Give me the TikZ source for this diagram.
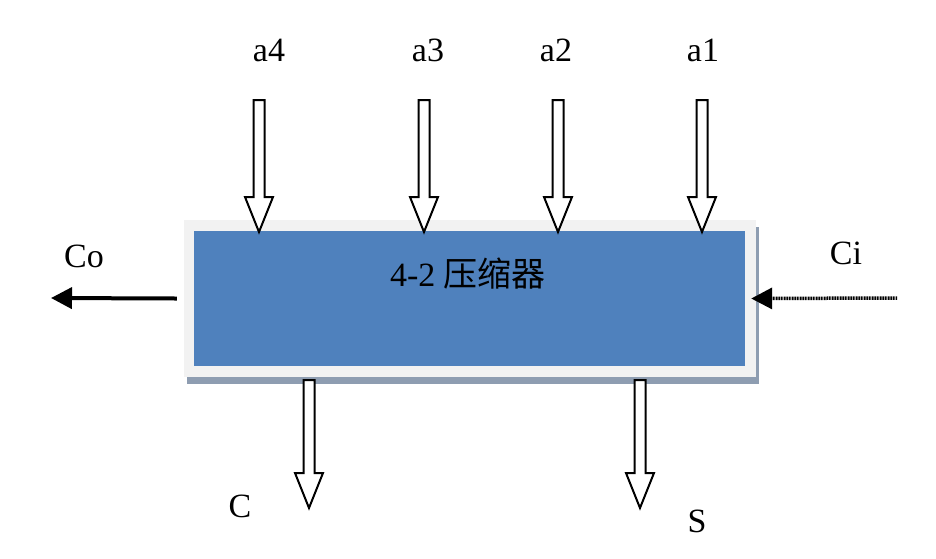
\documentclass[tikz,border=0pt]{standalone}
\usepackage{fontspec}
\setmainfont{Liberation Serif}
\newfontfamily\cjk{Noto Sans CJK SC}
\usetikzlibrary{arrows.meta}
\definecolor{compblue}{HTML}{4F81BD}
\definecolor{compframe}{HTML}{F2F2F2}
\definecolor{compshadow}{HTML}{8E9DB1}
\tikzset{hollow/.pic={
  \draw[line width=2,fill=white,line join=miter]
    (-5.5,0) -- (-5.5,#1-35) -- (-14,#1-35) -- (0,#1) -- (14,#1-35) -- (5.5,#1-35) -- (5.5,0) -- cycle;}}

\begin{document}
\begin{tikzpicture}[x=1pt,y=-1pt,
                    >={Triangle[length=21pt,width=21pt]}]
  \tikzstyle{every node}=[inner sep=0pt,font=\fontsize{34}{40}\selectfont]
  \tikzstyle{lbl}=[anchor=base]
  \useasboundingbox (0,0) rectangle (936,558);

  % box with frame and shadow
  \fill[compshadow]	(187,227) rectangle (759,384);
  \fill[compframe]	(184,220) rectangle (756,377);
  \node[fill=compblue,minimum width=551pt,minimum height=135pt]	(comp) at (469.5,298.5) {};
  \node[lbl]	(title) at (468,286)	{4-2 {\cjk 压缩器}};

  % inputs
  \node[lbl]	(a4) at (269,61)	{a4};
  \node[lbl]	(a3) at (428,61)	{a3};
  \node[lbl]	(a2) at (556,61)	{a2};
  \node[lbl]	(a1) at (703,61)	{a1};
  \pic at (259,100) {hollow=132};
  \pic at (424,100) {hollow=132};
  \pic at (558,100) {hollow=132};
  \pic at (702,100) {hollow=132};

  % outputs
  \node[lbl]	(c) at (240,517)	{C};
  \node[lbl]	(s) at (697,532)	{S};
  \pic at (309,380) {hollow=128};
  \pic at (640,380) {hollow=128};

  % carries
  \node[lbl]	(colbl) at (84,267)	{Co};
  \node[lbl]	(cilbl) at (846,264)	{Ci};
  \coordinate	(co) at (51,298);
  \coordinate	(ci) at (897,298);
  \draw[->,line width=4]	([xshift=-17]comp.west) -- (co);
  \draw[->,line width=3.5,dash pattern=on 1pt off 0.6pt]	(ci) -- ([xshift=6]comp.east);

\end{tikzpicture}
\end{document}
